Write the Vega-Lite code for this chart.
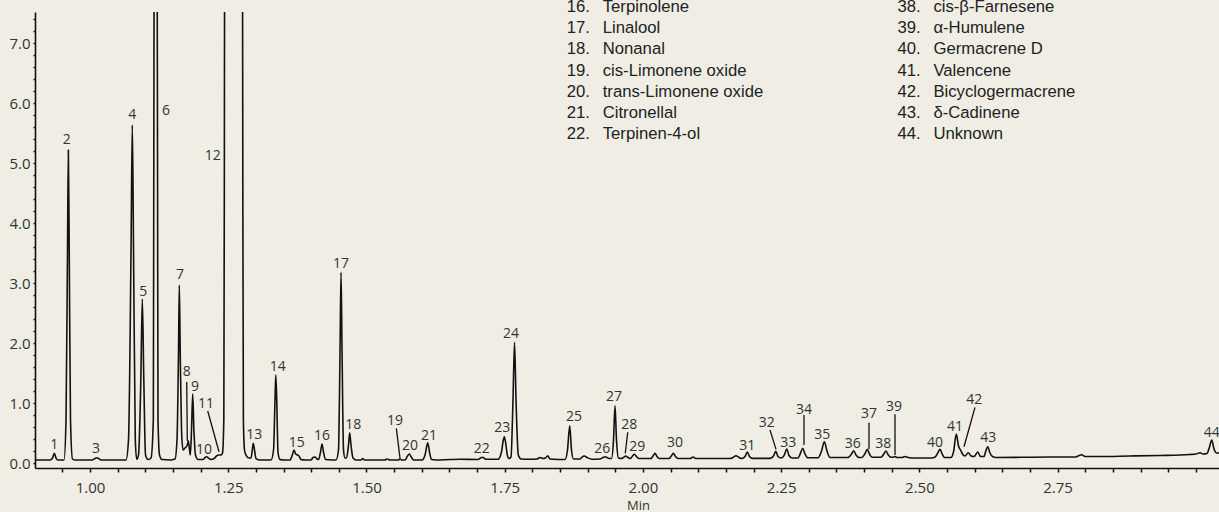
{
  "$schema": "https://vega.github.io/schema/vega-lite/v6.json",
  "width": 1184,
  "height": 456,
  "autosize": "none",
  "padding": {"left": 35, "top": 12, "right": 0, "bottom": 44},
  "background": "#f0eee4",
  "config": {"view": {"stroke": null}},
  "datasets": {
    "trace": [
      {"t":0.9005,"v":0.05},{"t":0.9277,"v":0.05},{"t":0.9322,"v":0.083},{"t":0.9354,"v":0.162},{"t":0.9385,"v":0.083},{"t":0.9421,"v":0.05},
      {"t":0.9530,"v":0.05},{"t":0.9566,"v":0.717},{"t":0.9593,"v":3.55},{"t":0.9608,"v":5.217},{"t":0.9624,"v":3.55},{"t":0.9647,"v":0.717},{"t":0.9683,"v":0.067},{"t":0.9729,"v":0.05},
      {"t":1.0036,"v":0.05},{"t":1.0090,"v":0.075},{"t":1.0121,"v":0.088},{"t":1.0154,"v":0.075},{"t":1.0199,"v":0.05},
      {"t":1.0651,"v":0.05},{"t":1.0696,"v":0.383},{"t":1.0742,"v":3.55},{"t":1.0765,"v":5.633},{"t":1.0787,"v":3.55},{"t":1.0819,"v":0.383},{"t":1.0845,"v":0.062},
      {"t":1.0877,"v":0.133},{"t":1.0919,"v":1.383},{"t":1.0946,"v":2.733},{"t":1.0973,"v":1.383},{"t":1.1004,"v":0.133},{"t":1.1049,"v":0.058},
      {"t":1.1103,"v":0.083},{"t":1.1145,"v":0.717},{"t":1.1154,"v":5.217},{"t":1.1159,"v":8.05},{"t":1.1186,"v":12},{"t":1.1215,"v":8.05},{"t":1.1221,"v":5.217},{"t":1.1230,"v":0.717},{"t":1.1257,"v":0.133},{"t":1.1302,"v":0.058},
      {"t":1.1447,"v":0.05},{"t":1.1537,"v":0.067},{"t":1.1573,"v":0.383},{"t":1.1601,"v":1.883},{"t":1.1615,"v":2.967},{"t":1.1631,"v":1.883},{"t":1.1655,"v":0.55},{"t":1.1682,"v":0.217},
      {"t":1.1718,"v":0.25},{"t":1.1760,"v":0.3},{"t":1.1778,"v":0.372},{"t":1.1800,"v":0.217},{"t":1.1814,"v":0.133},
      {"t":1.1836,"v":0.55},{"t":1.1857,"v":1.15},{"t":1.1879,"v":0.55},{"t":1.1908,"v":0.133},{"t":1.1953,"v":0.058},
      {"t":1.2044,"v":0.058},{"t":1.2080,"v":0.092},{"t":1.2111,"v":0.105},{"t":1.2143,"v":0.083},{"t":1.2188,"v":0.058},
      {"t":1.2243,"v":0.075},{"t":1.2288,"v":0.117},{"t":1.2324,"v":0.133},{"t":1.2369,"v":0.133},
      {"t":1.2396,"v":0.167},{"t":1.2420,"v":0.717},{"t":1.2429,"v":4.383},{"t":1.2434,"v":8.2},{"t":1.2604,"v":20},{"t":1.2758,"v":8.2},{"t":1.2764,"v":4.383},{"t":1.2774,"v":0.717},{"t":1.2794,"v":0.217},{"t":1.2821,"v":0.133},{"t":1.2876,"v":0.083},
      {"t":1.2912,"v":0.083},{"t":1.2935,"v":0.217},{"t":1.2953,"v":0.328},{"t":1.2975,"v":0.217},{"t":1.3002,"v":0.075},{"t":1.3075,"v":0.05},
      {"t":1.3274,"v":0.05},{"t":1.3319,"v":0.217},{"t":1.3346,"v":1.05},{"t":1.3360,"v":1.467},{"t":1.3377,"v":1.05},{"t":1.3400,"v":0.183},{"t":1.3436,"v":0.058},{"t":1.3509,"v":0.05},
      {"t":1.3617,"v":0.05},{"t":1.3659,"v":0.133},{"t":1.3690,"v":0.217},{"t":1.3720,"v":0.15},{"t":1.3753,"v":0.133},{"t":1.3780,"v":0.117},{"t":1.3816,"v":0.058},{"t":1.3888,"v":0.05},
      {"t":1.3997,"v":0.05},{"t":1.4033,"v":0.092},{"t":1.4069,"v":0.1},{"t":1.4106,"v":0.067},
      {"t":1.4133,"v":0.058},{"t":1.4169,"v":0.183},{"t":1.4196,"v":0.317},{"t":1.4223,"v":0.183},{"t":1.4259,"v":0.058},{"t":1.4377,"v":0.05},
      {"t":1.4449,"v":0.05},{"t":1.4494,"v":0.217},{"t":1.4522,"v":1.883},{"t":1.4540,"v":3.178},{"t":1.4558,"v":1.883},{"t":1.4585,"v":0.217},{"t":1.4612,"v":0.083},
      {"t":1.4639,"v":0.083},{"t":1.4675,"v":0.3},{"t":1.4697,"v":0.505},{"t":1.4720,"v":0.3},{"t":1.4757,"v":0.083},{"t":1.4811,"v":0.05},
      {"t":1.4901,"v":0.05},{"t":1.4932,"v":0.075},{"t":1.4965,"v":0.05},{"t":1.5335,"v":0.05},{"t":1.5372,"v":0.067},{"t":1.5426,"v":0.05},
      {"t":1.5570,"v":0.05},{"t":1.5607,"v":0.067},{"t":1.5643,"v":0.05},
      {"t":1.5697,"v":0.05},{"t":1.5742,"v":0.117},{"t":1.5775,"v":0.15},{"t":1.5806,"v":0.108},{"t":1.5851,"v":0.05},
      {"t":1.6005,"v":0.05},{"t":1.6059,"v":0.133},{"t":1.6108,"v":0.338},{"t":1.6140,"v":0.183},{"t":1.6176,"v":0.058},{"t":1.6258,"v":0.05},
      {"t":1.6511,"v":0.058},{"t":1.6692,"v":0.062},
      {"t":1.7017,"v":0.058},{"t":1.7063,"v":0.083},{"t":1.7095,"v":0.095},{"t":1.7126,"v":0.083},{"t":1.7162,"v":0.062},
      {"t":1.7379,"v":0.062},{"t":1.7442,"v":0.183},{"t":1.7475,"v":0.383},{"t":1.7493,"v":0.438},{"t":1.7515,"v":0.35},{"t":1.7551,"v":0.117},{"t":1.7578,"v":0.075},
      {"t":1.7614,"v":0.1},{"t":1.7650,"v":1.05},{"t":1.7678,"v":2.012},{"t":1.7705,"v":1.05},{"t":1.7746,"v":0.133},{"t":1.7795,"v":0.067},
      {"t":1.7958,"v":0.062},{"t":1.8084,"v":0.067},{"t":1.8139,"v":0.092},{"t":1.8193,"v":0.075},{"t":1.8238,"v":0.083},{"t":1.8278,"v":0.122},{"t":1.8320,"v":0.067},
      {"t":1.8591,"v":0.058},{"t":1.8636,"v":0.217},{"t":1.8676,"v":0.622},{"t":1.8708,"v":0.217},{"t":1.8745,"v":0.067},
      {"t":1.8862,"v":0.067},{"t":1.8898,"v":0.1},{"t":1.8940,"v":0.117},{"t":1.8989,"v":0.092},{"t":1.9079,"v":0.062},
      {"t":1.9224,"v":0.067},{"t":1.9278,"v":0.092},{"t":1.9314,"v":0.105},{"t":1.9350,"v":0.092},{"t":1.9387,"v":0.075},
      {"t":1.9432,"v":0.075},{"t":1.9468,"v":0.383},{"t":1.9495,"v":0.955},{"t":1.9522,"v":0.383},{"t":1.9558,"v":0.083},{"t":1.9604,"v":0.075},
      {"t":1.9649,"v":0.092},{"t":1.9689,"v":0.117},{"t":1.9730,"v":0.092},
      {"t":1.9776,"v":0.075},{"t":1.9812,"v":0.117},{"t":1.9844,"v":0.145},{"t":1.9884,"v":0.108},{"t":1.9929,"v":0.075},{"t":2.0038,"v":0.075},
      {"t":2.0146,"v":0.075},{"t":2.0182,"v":0.117},{"t":2.0219,"v":0.162},{"t":2.0255,"v":0.108},{"t":2.0291,"v":0.075},
      {"t":2.0472,"v":0.075},{"t":2.0513,"v":0.117},{"t":2.0550,"v":0.162},{"t":2.0589,"v":0.108},{"t":2.0635,"v":0.075},
      {"t":2.0852,"v":0.075},{"t":2.0911,"v":0.1},{"t":2.0960,"v":0.075},{"t":2.1304,"v":0.075},{"t":2.1575,"v":0.075},
      {"t":2.1629,"v":0.092},{"t":2.1684,"v":0.122},{"t":2.1738,"v":0.092},{"t":2.1792,"v":0.075},
      {"t":2.1846,"v":0.108},{"t":2.1888,"v":0.183},{"t":2.1928,"v":0.108},{"t":2.1973,"v":0.078},{"t":2.2298,"v":0.078},
      {"t":2.2362,"v":0.117},{"t":2.2402,"v":0.195},{"t":2.2443,"v":0.108},{"t":2.2497,"v":0.083},
      {"t":2.2557,"v":0.133},{"t":2.2601,"v":0.233},{"t":2.2642,"v":0.125},{"t":2.2696,"v":0.083},{"t":2.2805,"v":0.083},
      {"t":2.2847,"v":0.158},{"t":2.2890,"v":0.245},{"t":2.2932,"v":0.15},{"t":2.2986,"v":0.087},{"t":2.3167,"v":0.087},
      {"t":2.3230,"v":0.2},{"t":2.3281,"v":0.355},{"t":2.3329,"v":0.2},{"t":2.3384,"v":0.092},{"t":2.3709,"v":0.092},
      {"t":2.3773,"v":0.15},{"t":2.3812,"v":0.205},{"t":2.3854,"v":0.133},{"t":2.3908,"v":0.092},{"t":2.3962,"v":0.092},
      {"t":2.4017,"v":0.158},{"t":2.4058,"v":0.228},{"t":2.4098,"v":0.15},{"t":2.4143,"v":0.095},{"t":2.4306,"v":0.095},
      {"t":2.4357,"v":0.15},{"t":2.4397,"v":0.2},{"t":2.4438,"v":0.133},{"t":2.4487,"v":0.095},
      {"t":2.4523,"v":0.095},{"t":2.4559,"v":0.108},{"t":2.4595,"v":0.092},
      {"t":2.4686,"v":0.092},{"t":2.4740,"v":0.108},{"t":2.4794,"v":0.092},{"t":2.4921,"v":0.083},{"t":2.5228,"v":0.083},
      {"t":2.5283,"v":0.1},{"t":2.5333,"v":0.167},{"t":2.5373,"v":0.228},{"t":2.5413,"v":0.15},{"t":2.5455,"v":0.092},{"t":2.5572,"v":0.092},
      {"t":2.5617,"v":0.183},{"t":2.5668,"v":0.483},{"t":2.5708,"v":0.283},{"t":2.5744,"v":0.217},{"t":2.5780,"v":0.15},{"t":2.5825,"v":0.117},
      {"t":2.5885,"v":0.172},{"t":2.5934,"v":0.117},{"t":2.5988,"v":0.108},
      {"t":2.6055,"v":0.183},{"t":2.6106,"v":0.108},{"t":2.6169,"v":0.108},
      {"t":2.6196,"v":0.183},{"t":2.6236,"v":0.272},{"t":2.6277,"v":0.167},{"t":2.6323,"v":0.108},{"t":2.6386,"v":0.092},
      {"t":2.6820,"v":0.095},{"t":2.7363,"v":0.1},{"t":2.7815,"v":0.1},{"t":2.7869,"v":0.117},{"t":2.7936,"v":0.138},{"t":2.7996,"v":0.108},
      {"t":2.8267,"v":0.108},{"t":2.8809,"v":0.117},{"t":2.9352,"v":0.125},{"t":2.9895,"v":0.142},{"t":3.0003,"v":0.15},{"t":3.0075,"v":0.172},
      {"t":3.0130,"v":0.15},{"t":3.0202,"v":0.158},{"t":3.0247,"v":0.267},{"t":3.0287,"v":0.383},{"t":3.0329,"v":0.233},{"t":3.0374,"v":0.167},{"t":3.0419,"v":0.167}
    ],
    "labels": [
      {"n":"1","t":0.9354,"v":0.3},{"n":"2","t":0.9579,"v":5.383},{"n":"3","t":1.0109,"v":0.242},{"n":"4","t":1.0765,"v":5.8},
      {"n":"5","t":1.0964,"v":2.855},{"n":"6","t":1.1375,"v":5.867},{"n":"7","t":1.1628,"v":3.133},{"n":"8","t":1.1749,"v":1.512},
      {"n":"9","t":1.1899,"v":1.272},{"n":"10","t":1.2062,"v":0.217},{"n":"11","t":1.2098,"v":0.983},{"n":"12","t":1.2219,"v":5.122},
      {"n":"13","t":1.2972,"v":0.467},{"n":"14","t":1.3395,"v":1.605},{"n":"15","t":1.3738,"v":0.338},{"n":"16","t":1.4196,"v":0.455},
      {"n":"17","t":1.4540,"v":3.317},{"n":"18","t":1.4762,"v":0.633},{"n":"19","t":1.5516,"v":0.705},{"n":"20","t":1.5788,"v":0.283},
      {"n":"21","t":1.6131,"v":0.45},{"n":"22","t":1.7084,"v":0.228},{"n":"23","t":1.7457,"v":0.578},{"n":"24","t":1.7614,"v":2.15},
      {"n":"25","t":1.8754,"v":0.762},{"n":"26","t":1.9266,"v":0.233},{"n":"27","t":1.9477,"v":1.105},{"n":"28","t":1.9754,"v":0.633},
      {"n":"29","t":1.9899,"v":0.272},{"n":"30","t":2.0580,"v":0.338},{"n":"31","t":2.1888,"v":0.288},{"n":"32","t":2.2239,"v":0.662},
      {"n":"33","t":2.2630,"v":0.328},{"n":"34","t":2.2913,"v":0.883},{"n":"35","t":2.3244,"v":0.467},{"n":"36","t":2.3794,"v":0.317},
      {"n":"37","t":2.4089,"v":0.817},{"n":"38","t":2.4348,"v":0.317},{"n":"39","t":2.4541,"v":0.938},{"n":"40","t":2.5283,"v":0.328},
      {"n":"41","t":2.5644,"v":0.595},{"n":"42","t":2.5994,"v":1.05},{"n":"43","t":2.6246,"v":0.422},{"n":"44","t":3.0287,"v":0.495}
    ],
    "leaders": [
      {"n":"8","t":1.1749,"v":1.35,"t2":1.1760,"v2":0.367},
      {"n":"11","t":1.2129,"v":0.867,"t2":1.2333,"v2":0.188},
      {"n":"19","t":1.5540,"v":0.578,"t2":1.5607,"v2":0.078},
      {"n":"28","t":1.9725,"v":0.512,"t2":1.9681,"v2":0.162},
      {"n":"32","t":2.2298,"v":0.55,"t2":2.2407,"v2":0.228},
      {"n":"34","t":2.2913,"v":0.8,"t2":2.2913,"v2":0.3},
      {"n":"37","t":2.4089,"v":0.672,"t2":2.4089,"v2":0.233},
      {"n":"39","t":2.4559,"v":0.812,"t2":2.4559,"v2":0.133},
      {"n":"42","t":2.6006,"v":0.928,"t2":2.5807,"v2":0.272}
    ],
    "legend": [
      {"n":16,"name":"Terpinolene","col":1},{"n":17,"name":"Linalool","col":1},{"n":18,"name":"Nonanal","col":1},
      {"n":19,"name":"cis-Limonene oxide","col":1},{"n":20,"name":"trans-Limonene oxide","col":1},{"n":21,"name":"Citronellal","col":1},
      {"n":22,"name":"Terpinen-4-ol","col":1},
      {"n":38,"name":"cis-β-Farnesene","col":2},{"n":39,"name":"α-Humulene","col":2},{"n":40,"name":"Germacrene D","col":2},
      {"n":41,"name":"Valencene","col":2},{"n":42,"name":"Bicyclogermacrene","col":2},{"n":43,"name":"δ-Cadinene","col":2},
      {"n":44,"name":"Unknown","col":2}
    ]
  },
  "layer": [
    {
      "encoding": {
        "x": {
          "field": "t", "type": "quantitative",
          "scale": {"domain": [0.9005, 3.0419], "nice": false, "zero": false},
          "axis": {
            "title": "Min", "titleFont": "Open Sans", "titleFontSize": 13, "titleFontWeight": "normal", "titleColor": "#333",
            "titleX": 603, "titleY": 41, "titleBaseline": "alphabetic", "titleAlign": "center",
            "values": [0.95,1,1.05,1.1,1.15,1.2,1.25,1.3,1.35,1.4,1.45,1.5,1.55,1.6,1.65,1.7,1.75,1.8,1.85,1.9,1.95,2,2.05,2.1,2.15,2.2,2.25,2.3,2.35,2.4,2.45,2.5,2.55,2.6,2.65,2.7,2.75,2.8,2.85,2.9,2.95,3],
            "labelExpr": "(abs(datum.value*4 - round(datum.value*4)) < 0.001 && datum.value < 2.9) ? format(datum.value, '.2f') : ''",
            "labelFont": "Open Sans", "labelFontSize": 15, "labelColor": "#333", "labelPadding": 8,
            "grid": false, "tickSize": 4, "tickColor": "#111", "tickWidth": 1.5,
            "domainColor": "#111", "domainWidth": 1.6, "labelFlush": false, "labelOverlap": false
          }
        },
        "y": {
          "field": "v", "type": "quantitative",
          "scale": {"domain": [-0.083, 7.517], "nice": false, "zero": false},
          "axis": {
            "title": null,
            "values": [0,0.2,0.4,0.6,0.8,1,1.2,1.4,1.6,1.8,2,2.2,2.4,2.6,2.8,3,3.2,3.4,3.6,3.8,4,4.2,4.4,4.6,4.8,5,5.2,5.4,5.6,5.8,6,6.2,6.4,6.6,6.8,7,7.2,7.4],
            "labelExpr": "abs(datum.value - round(datum.value)) < 0.01 ? format(datum.value, '.1f') : ''",
            "labelFont": "Open Sans", "labelFontSize": 15, "labelColor": "#333", "labelPadding": 3,
            "grid": false, "tickSize": 2, "tickColor": "#111", "tickWidth": 1.5,
            "domainColor": "#111", "domainWidth": 1.6, "labelOverlap": false, "labelFlush": false
          }
        }
      },
      "layer": [
        {
          "data": {"name": "trace"},
          "mark": {"type": "line", "interpolate": "monotone", "clip": true, "color": "#111", "strokeWidth": 1.6}
        },
        {
          "data": {"name": "leaders"},
          "mark": {"type": "rule", "color": "#111", "strokeWidth": 1.3},
          "encoding": {"x2": {"field": "t2"}, "y2": {"field": "v2"}}
        },
        {
          "data": {"name": "labels"},
          "mark": {"type": "text", "font": "Open Sans", "fontSize": 14, "color": "#333", "align": "center", "baseline": "middle"},
          "encoding": {"text": {"field": "n", "type": "nominal"}}
        }
      ]
    },
    {
      "data": {"name": "legend"},
      "transform": [
        {"calculate": "datum.n - (datum.col == 1 ? 16 : 38)", "as": "row"},
        {"calculate": "datum.n + '.'", "as": "num"}
      ],
      "encoding": {
        "x": {"field": "col", "type": "quantitative", "scale": {"domain": [-0.6783, 2.902], "nice": false, "zero": false}, "axis": null},
        "y": {"field": "row", "type": "quantitative", "scale": {"domain": [0, 21.509], "nice": false, "zero": false, "reverse": true}, "axis": null}
      },
      "layer": [
        {
          "mark": {"type": "text", "font": "Liberation Sans", "fontSize": 16.7, "color": "#222", "align": "right", "baseline": "alphabetic"},
          "encoding": {"text": {"field": "num", "type": "nominal"}}
        },
        {
          "mark": {"type": "text", "font": "Liberation Sans", "fontSize": 16.7, "color": "#222", "align": "left", "baseline": "alphabetic", "dx": 12.7},
          "encoding": {"text": {"field": "name", "type": "nominal"}}
        }
      ]
    }
  ],
  "resolve": {"scale": {"x": "independent", "y": "independent"}}
}
